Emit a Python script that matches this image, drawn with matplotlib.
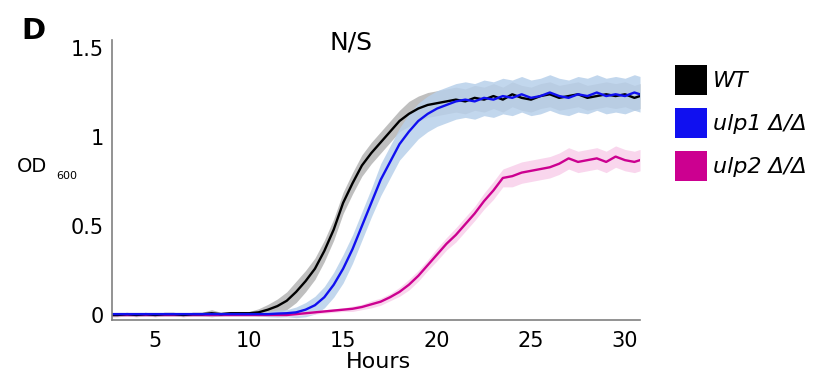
import numpy as np
import matplotlib.pyplot as plt
from matplotlib.patches import Patch

# time points (hours)
hours = [2.7, 3, 3.5, 4, 4.5, 5, 5.5, 6, 6.5, 7, 7.5, 8, 8.5, 9, 9.5, 10, 10.5, 11,
         11.5, 12, 12.5, 13, 13.5, 14, 14.5, 15, 15.5, 16, 16.5, 17, 17.5, 18, 18.5,
         19, 19.5, 20, 20.5, 21, 21.5, 22, 22.5, 23, 23.5, 24, 24.5, 25, 25.5, 26,
         26.5, 27, 27.5, 28, 28.5, 29, 29.5, 30, 30.5, 30.8]

wt = [0.0, 0.0, 0.005, 0.0, 0.005, 0.0, 0.005, 0.005, 0.0, 0.005, 0.005, 0.01, 0.005,
      0.01, 0.01, 0.01, 0.015, 0.03, 0.05, 0.08, 0.13, 0.19, 0.26, 0.36, 0.48, 0.63,
      0.74, 0.84, 0.91, 0.97, 1.03, 1.09, 1.13, 1.16, 1.18, 1.19, 1.20, 1.21, 1.20,
      1.22, 1.21, 1.23, 1.21, 1.24, 1.22, 1.21, 1.23, 1.24, 1.22, 1.23, 1.24, 1.22,
      1.23, 1.24, 1.23, 1.24, 1.22, 1.23]
wt_sd = [0.01, 0.01, 0.01, 0.01, 0.01, 0.01, 0.01, 0.01, 0.01, 0.01, 0.01, 0.02, 0.01,
         0.01, 0.01, 0.01, 0.02, 0.03, 0.04, 0.05, 0.06, 0.06, 0.06, 0.06, 0.06, 0.06,
         0.06, 0.06, 0.06, 0.06, 0.06, 0.06, 0.07, 0.07, 0.07, 0.07, 0.07, 0.07, 0.07,
         0.07, 0.07, 0.07, 0.07, 0.07, 0.07, 0.07, 0.07, 0.07, 0.07, 0.07, 0.07, 0.07,
         0.07, 0.07, 0.07, 0.07, 0.07, 0.07]

ulp1 = [0.005, 0.005, 0.005, 0.005, 0.005, 0.005, 0.005, 0.005, 0.005, 0.005, 0.005,
        0.005, 0.005, 0.005, 0.005, 0.005, 0.005, 0.005, 0.008, 0.01, 0.015, 0.03,
        0.055, 0.10, 0.17, 0.26, 0.37, 0.50, 0.63, 0.76, 0.86, 0.96, 1.03, 1.09, 1.13,
        1.16, 1.18, 1.20, 1.21, 1.20, 1.22, 1.21, 1.23, 1.22, 1.24, 1.22, 1.23, 1.25,
        1.23, 1.22, 1.24, 1.23, 1.25, 1.23, 1.24, 1.23, 1.25, 1.24]
ulp1_sd = [0.01, 0.01, 0.01, 0.01, 0.01, 0.01, 0.01, 0.01, 0.01, 0.01, 0.01, 0.01,
           0.01, 0.01, 0.01, 0.01, 0.01, 0.015, 0.02, 0.02, 0.03, 0.04, 0.05, 0.06,
           0.07, 0.08, 0.08, 0.08, 0.08, 0.09, 0.09, 0.09, 0.10, 0.10, 0.10, 0.10,
           0.10, 0.10, 0.10, 0.10, 0.10, 0.10, 0.10, 0.10, 0.10, 0.10, 0.10, 0.10,
           0.10, 0.10, 0.10, 0.10, 0.10, 0.10, 0.10, 0.10, 0.10, 0.10]

ulp2 = [0.0, 0.0, 0.0, 0.0, 0.0, 0.0, 0.0, 0.0, 0.0, 0.0, 0.0, 0.0, 0.0, 0.0, 0.0,
        0.0, 0.0, 0.0, 0.0, 0.0, 0.005, 0.01, 0.015, 0.02, 0.025, 0.03, 0.035, 0.045,
        0.06, 0.075, 0.10, 0.13, 0.17, 0.22, 0.28, 0.34, 0.40, 0.45, 0.51, 0.57, 0.64,
        0.70, 0.77, 0.78, 0.80, 0.81, 0.82, 0.83, 0.85, 0.88, 0.86, 0.87, 0.88, 0.86,
        0.89, 0.87, 0.86, 0.87]
ulp2_sd = [0.005, 0.005, 0.005, 0.005, 0.005, 0.005, 0.005, 0.005, 0.005, 0.005,
           0.005, 0.005, 0.005, 0.005, 0.005, 0.005, 0.005, 0.005, 0.005, 0.005,
           0.01, 0.01, 0.01, 0.01, 0.01, 0.01, 0.015, 0.015, 0.02, 0.02, 0.02, 0.025,
           0.03, 0.03, 0.03, 0.035, 0.035, 0.04, 0.04, 0.04, 0.045, 0.05, 0.05, 0.06,
           0.06, 0.06, 0.06, 0.06, 0.06, 0.06, 0.06, 0.06, 0.06, 0.06, 0.06, 0.06,
           0.06, 0.06]

labels = ["WT", "ulp1 \u0394/\u0394", "ulp2 \u0394/\u0394"]
line_cols = ["#000000", "#1010f0", "#cc0090"]
band_cols = ["#b4b4b4", "#b8d0ea", "#f8cfea"]
xticks = [5, 10, 15, 20, 25, 30]
yticks = [0, 0.5, 1, 1.5]
yticklabels = ["0", "0.5", "1", "1.5"]

t = np.array(hours)
series = [(np.array(wt), np.array(wt_sd)),
          (np.array(ulp1), np.array(ulp1_sd)),
          (np.array(ulp2), np.array(ulp2_sd))]

fig = plt.figure(figsize=(8.15, 3.72), dpi=100)
ax = fig.add_axes([0.1374, 0.1398, 0.6479, 0.7527])

for (m, s), bc in zip(series, band_cols):
    ax.fill_between(t, m - s, m + s, color=bc, lw=0, alpha=0.85)
# magenta first, then black, blue on top
for i in [2, 0, 1]:
    ax.plot(t, series[i][0], color=line_cols[i], lw=1.7)

ax.set_xlim(2.7, 30.8)
ax.set_ylim(-0.028, 1.545)
ax.set_xticks(xticks)
ax.set_yticks(yticks)
ax.set_yticklabels(yticklabels)
ax.tick_params(length=0, labelsize=15)
ax.tick_params(axis="x", pad=8)
ax.tick_params(axis="y", pad=6)
for sp in ["top", "right"]:
    ax.spines[sp].set_visible(False)
for sp in ["left", "bottom"]:
    ax.spines[sp].set_color("#808080")
    ax.spines[sp].set_linewidth(1.2)

fig.text(378/815, 1 - 362/372, "Hours", ha="center", va="center", fontsize=16)
fig.text(351/815, 1 - 43/372, "N/S", ha="center", va="center", fontsize=18)
fig.text(33/815, 1 - 31/372, "D", ha="center", va="center", fontsize=21,
         fontweight="bold")
fig.text(32/815, 1 - 166/372, "OD", ha="center", va="center", fontsize=14)
fig.text(67/815, 1 - 176/372, "600", ha="center", va="center", fontsize=8)

handles = [Patch(facecolor=c, edgecolor="none") for c in line_cols]
fig.legend(handles, labels, loc="upper left", bbox_to_anchor=(675/815, 1 - 65/372),
           frameon=False, borderpad=0, borderaxespad=0,
           handlelength=1.44, handleheight=1.70, handletextpad=0.25,
           labelspacing=0.59, prop={"style": "italic", "size": 16})

fig.savefig("out.png", dpi=100)
